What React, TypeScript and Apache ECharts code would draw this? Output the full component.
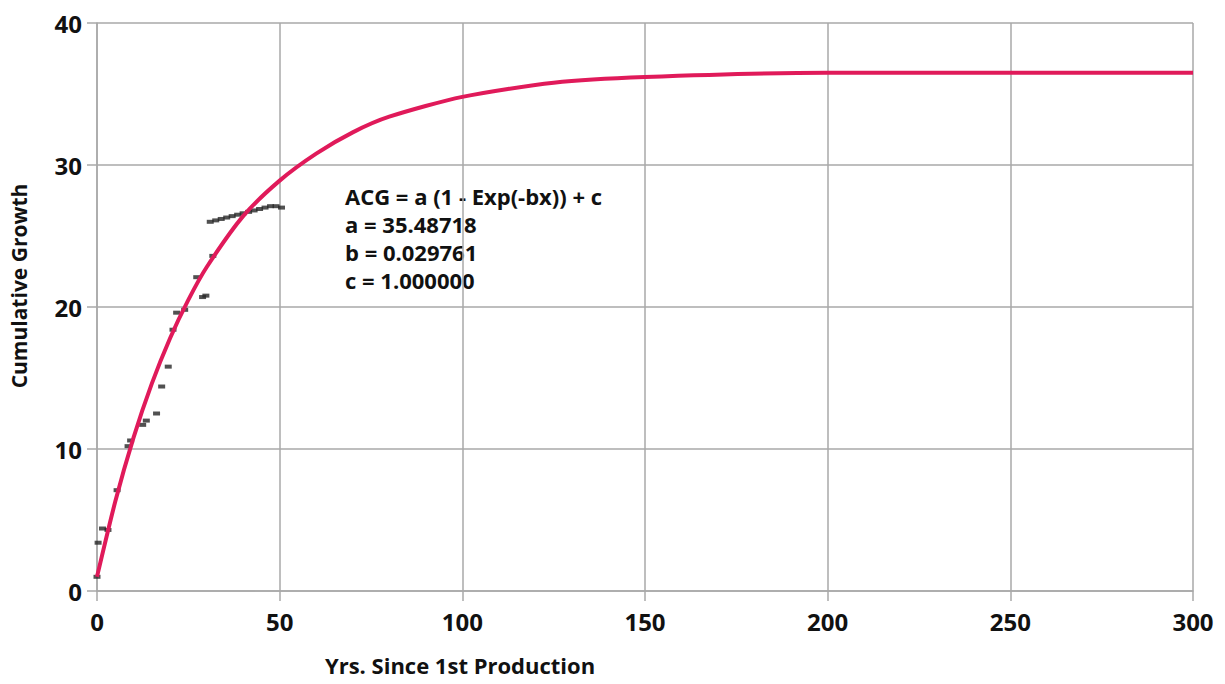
import React, { useEffect, useRef } from "react";
import * as echarts from "echarts";

// Fitted curve
const curveX = [0, 5, 10, 15, 20, 25, 30, 40, 50, 60, 70, 80, 100, 125, 150, 200, 250, 300];
const curveY = [1.0, 6.3, 10.8, 14.6, 17.8, 20.5, 22.8, 26.4, 28.9, 30.8, 32.3, 33.4, 34.8, 35.8, 36.2, 36.5, 36.5, 36.5];

const obsX = [0, 0.3, 1.5, 3, 5.5, 8.5, 9.2, 12.5, 13.5, 16.3, 17.7, 19.5, 20.8, 21.8, 24, 27.3, 28.9, 29.8, 31.7,
  31, 32.5, 34, 35.5, 37, 38.5, 40, 41.5, 43, 44.5, 46, 47.5, 49, 50.5];
const obsY = [1.0, 3.4, 4.4, 4.3, 7.1, 10.2, 10.6, 11.7, 12.0, 12.5, 14.4, 15.8, 18.4, 19.6, 19.8, 22.1, 20.7, 20.8, 23.6,
  26.0, 26.1, 26.2, 26.3, 26.4, 26.5, 26.6, 26.7, 26.8, 26.9, 27.0, 27.1, 27.1, 27.0];

const xTicks = [0, 50, 100, 150, 200, 250, 300];
const yTicks = [0, 10, 20, 30, 40];

const annotationLines = ["ACG = a (1 - Exp(-bx)) + c", "a = 35.48718", "b = 0.029761", "c = 1.000000"];

const FONT = "Open Sans";

export default function App() {
  const ref = useRef<HTMLDivElement>(null);
  useEffect(() => {
    if (!ref.current) return;
    const chart = echarts.init(ref.current, undefined, { renderer: "svg" });
    const gridColor = "#a8a8a8";
    chart.setOption({
      animation: false,
      backgroundColor: "#ffffff",
      grid: { left: 97, right: 32, top: 23, bottom: 93, containLabel: false },
      xAxis: {
        type: "value",
        min: xTicks[0],
        max: xTicks[xTicks.length - 1],
        interval: 50,
        axisLine: { show: true, lineStyle: { color: gridColor, width: 1.5 } },
        axisTick: { show: true, length: 10, lineStyle: { color: gridColor, width: 1.5 } },
        splitLine: { show: true, lineStyle: { color: gridColor, width: 1.5 } },
        axisLabel: { color: "#111", fontFamily: FONT, fontWeight: "bold", fontSize: 24, margin: 18 },
      },
      yAxis: {
        type: "value",
        min: yTicks[0],
        max: yTicks[yTicks.length - 1],
        interval: 10,
        axisLine: { show: true, lineStyle: { color: gridColor, width: 1.5 } },
        axisTick: { show: true, length: 10, lineStyle: { color: gridColor, width: 1.5 } },
        splitLine: { show: true, lineStyle: { color: gridColor, width: 1.5 } },
        axisLabel: { color: "#111", fontFamily: FONT, fontWeight: "bold", fontSize: 24, margin: 15 },
      },
      series: [
        {
          type: "scatter",
          data: obsX.map((x, i) => [x, obsY[i]]),
          symbol: "rect",
          symbolSize: [7, 4],
          itemStyle: { color: "#262626" },
          z: 2,
        },
        {
          type: "line",
          data: curveX.map((x, i) => [x, curveY[i]]),
          showSymbol: false,
          smooth: 0.25,
          lineStyle: { color: "#e01a5a", width: 4 },
          z: 3,
        },
      ],
      graphic: [
        ...annotationLines.map((t, i) => ({
          type: "text",
          x: 345,
          y: 196 + i * 28,
          style: {
            text: t,
            font: `bold 22px '${FONT}'`,
            fill: "#111",
            textVerticalAlign: "middle",
          },
        })),
        {
          type: "text",
          x: 460,
          y: 665,
          style: {
            text: "Yrs. Since 1st Production",
            font: `bold 22px '${FONT}'`,
            fill: "#111",
            textAlign: "center",
            textVerticalAlign: "middle",
          },
        },
        {
          type: "text",
          x: 19,
          y: 286,
          rotation: Math.PI / 2,
          style: {
            text: "Cumulative Growth",
            font: `bold 21px '${FONT}'`,
            fill: "#111",
            textAlign: "center",
            textVerticalAlign: "middle",
          },
        },
      ],
    });
    return () => chart.dispose();
  }, []);
  return <div ref={ref} style={{ position: "fixed", left: 0, top: 0, width: 1225, height: 684 }} />;
}
